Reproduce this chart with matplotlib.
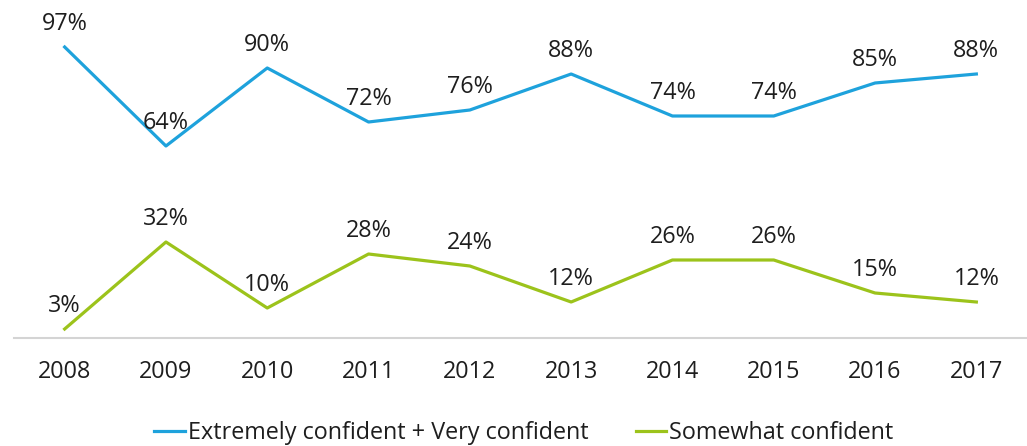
import matplotlib
matplotlib.use("Agg")
import matplotlib.pyplot as plt

plt.rcParams["font.family"] = ["Open Sans", "DejaVu Sans"]

years = ["2008", "2009", "2010", "2011", "2012", "2013", "2014", "2015", "2016", "2017"]
very_confident = [97, 64, 90, 72, 76, 88, 74, 74, 85, 88]
somewhat_confident = [3, 32, 10, 28, 24, 12, 26, 26, 15, 12]

BLUE = "#1ea2dc"
GREEN = "#9cc31b"
TXT = "#1e1e1e"
FS = 16.8

fig = plt.figure(figsize=(10.27, 4.46), dpi=100)
ax = fig.add_axes([14 / 1027, (446 - 338) / 446, 1013 / 1027, 338 / 446])

x = list(range(len(years)))
ax.plot(x, very_confident, color=BLUE, lw=2.3, label="Extremely confident + Very confident")
ax.plot(x, somewhat_confident, color=GREEN, lw=2.3, label="Somewhat confident")

for xs, ys in [(x, very_confident), (x, somewhat_confident)]:
    for xi, yi in zip(xs, ys):
        ax.annotate(f"{yi}%", (xi, yi), xytext=(0, 12.2), textcoords="offset points",
                    ha="center", va="baseline", fontsize=FS, color=TXT)

ax.set_xlim(-0.5, len(years) - 0.5)
ax.set_ylim(0, 338 / 3)
ax.set_xticks(x)
ax.set_xticklabels(years, fontsize=FS, color=TXT)
ax.tick_params(axis="x", length=0, pad=16)
ax.set_yticks([])
for s in ["top", "right", "left"]:
    ax.spines[s].set_visible(False)
ax.spines["bottom"].set_color("#d4d4d4")
ax.spines["bottom"].set_linewidth(1.5)

fig.legend(loc="center", bbox_to_anchor=(524 / 1027, 1 - 433 / 446), ncol=2, frameon=False,
           fontsize=FS, handlelength=1.3, handletextpad=0.15, columnspacing=2.0,
           labelcolor=TXT)

fig.savefig("out.png", dpi=100)
